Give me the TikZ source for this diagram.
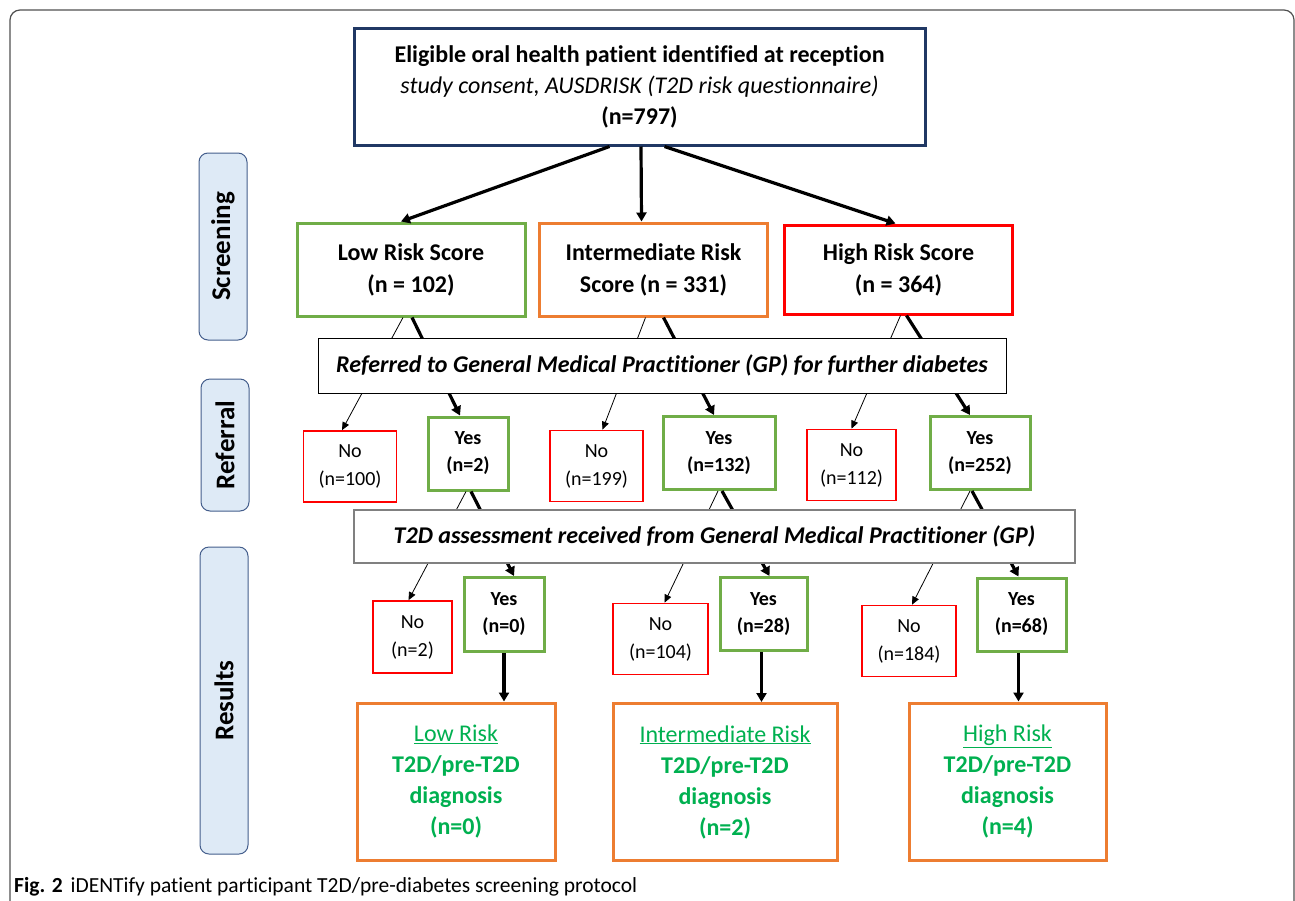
\documentclass[tikz,border=0pt]{standalone}
\usepackage{fontspec}
\setmainfont{Carlito}[Ligatures=NoCommon]
\usepackage{tikz}
\usetikzlibrary{positioning, arrows.meta, calc}
\definecolor{navycolor}{RGB}{32,56,100}
\definecolor{lowcolor}{RGB}{112,173,71}
\definecolor{midcolor}{RGB}{237,125,49}
\definecolor{highcolor}{RGB}{255,0,0}
\definecolor{diagcolor}{RGB}{0,176,80}
\definecolor{stagefill}{RGB}{222,234,246}
\definecolor{stageedge}{RGB}{68,94,140}
\definecolor{framecolor}{RGB}{80,80,80}

\tikzset{
    riskbox/.style={rectangle, line width=3pt, minimum width=228pt, minimum height=93pt, align=center, inner sep=0pt, font=\fontsize{24}{32}\selectfont\bfseries},
    nobox/.style={rectangle, draw=highcolor, line width=1.6pt, minimum width=93pt, minimum height=71pt, align=center, inner sep=0pt, font=\fontsize{20}{28}\selectfont},
    yesbox/.style={rectangle, draw=lowcolor, line width=3pt, minimum height=73pt, align=center, inner sep=0pt, font=\fontsize{20}{27}\selectfont\bfseries},
    stagebox/.style={rectangle, rounded corners=9pt, draw=stageedge, fill=stagefill, line width=1pt, rotate=90, minimum height=48pt, inner sep=0pt, font=\fontsize{27}{30}\selectfont\bfseries},
    questionbox/.style={rectangle, fill=white, inner sep=0pt, font=\fontsize{24}{28}\selectfont\bfseries\itshape},
    resultbox/.style={rectangle, draw=midcolor, line width=3pt, minimum width=198pt, minimum height=157pt, align=center, inner sep=0pt, text=diagcolor, font=\fontsize{24}{31}\selectfont},
    thinarrow/.style={-{Triangle[length=8pt,width=7pt]}, line width=0.8pt},
    thickarrow/.style={-{Triangle[length=9pt,width=10pt]}, line width=3.2pt},
}

\begin{document}
\begin{tikzpicture}[x=1pt, y=-1pt]
    \useasboundingbox (0,0) rectangle (1295,900);
    \begin{scope}
        \clip (0,0) rectangle (1295,900);
        \draw[framecolor, line width=1.2pt, rounded corners=10pt] (10,10) rectangle (1294,940);
    \end{scope}

    % stage labels on the left
    \node[stagebox, minimum width=187pt] (screening) at (223,246.5) {Screening};
    \node[stagebox, minimum width=132pt] (referral) at (225,445) {Referral};
    \node[stagebox, minimum width=307pt] (results) at (224,700.5) {Results};

    % screening
    \node[rectangle, draw=navycolor, line width=3pt, minimum width=571pt, minimum height=117pt, align=center, inner sep=0pt, font=\fontsize{24}{31}\selectfont] (eligible) at (639.5,86.5) {
        \textbf{Eligible oral health patient identified at reception}\\
        \textit{study consent, AUSDRISK (T2D risk questionnaire)}\\
        \textbf{(n=797)}
    };
    \node[riskbox, draw=lowcolor] (lowrisk) at (411,269.5) {Low Risk Score\\(n = 102)};
    \node[riskbox, draw=midcolor] (midrisk) at (653.5,269.5) {Intermediate Risk\\Score (n = 331)};
    \node[riskbox, draw=highcolor, minimum height=89pt] (highrisk) at (898.5,269.5) {High Risk Score\\(n = 364)};

    \draw[thickarrow] ([xshift=-30pt]eligible.south) -- ([xshift=-10pt]lowrisk.north);
    \draw[thickarrow] ([xshift=1.5pt]eligible.south) -- ([xshift=-12pt]midrisk.north);
    \draw[thickarrow] ([xshift=25pt]eligible.south) -- ([xshift=-3pt]highrisk.north);

    % referral
    \node[nobox] (refnolow) at (350,466.5) {No\\(n=100)};
    \node[yesbox, minimum width=80pt] (refyeslow) at (468,453.5) {Yes\\(n=2)};
    \node[nobox] (refnomid) at (596.5,466) {No\\(n=199)};
    \node[yesbox, minimum width=112pt] (refyesmid) at (719,453) {Yes\\(n=132)};
    \node[nobox, minimum width=89pt] (refnohigh) at (851.5,465) {No\\(n=112)};
    \node[yesbox, minimum width=100pt] (refyeshigh) at (980,453) {Yes\\(n=252)};

    \draw[thinarrow] ([xshift=-8pt]lowrisk.south) -- ([xshift=-8pt]refnolow.north);
    \draw[thickarrow] ([xshift=1pt]lowrisk.south) -- ([xshift=-8pt]refyeslow.north);
    \draw[thinarrow] ([xshift=-8pt]midrisk.south) -- ([xshift=6pt]refnomid.north);
    \draw[thickarrow] ([xshift=10pt]midrisk.south) -- ([xshift=-5pt]refyesmid.north);
    \draw[thinarrow] ([xshift=2pt]highrisk.south) -- (refnohigh.north);
    \draw[thickarrow] ([xshift=8pt]highrisk.south) -- ([xshift=-10pt]refyeshigh.north);

    \node[questionbox, draw=black, line width=1pt, minimum width=688pt, minimum height=55pt] (referred) at (662,365.5) {Referred to General Medical Practitioner (GP) for further diabetes};

    % results
    \node[nobox, minimum width=79pt, minimum height=72pt] (gpnolow) at (412.5,637) {No\\(n=2)};
    \node[yesbox, minimum width=80pt, minimum height=74pt] (gpyeslow) at (504,614.5) {Yes\\(n=0)};
    \node[nobox, minimum width=95pt] (gpnomid) at (660.5,639) {No\\(n=104)};
    \node[yesbox, minimum width=87pt] (gpyesmid) at (763.5,614) {Yes\\(n=28)};
    \node[nobox, minimum width=94pt] (gpnohigh) at (909,641) {No\\(n=184)};
    \node[yesbox, minimum width=89pt] (gpyeshigh) at (1021.5,614.5) {Yes\\(n=68)};

    \draw[thinarrow] ([xshift=-2pt]refyeslow.south) -- ([xshift=-4pt]gpnolow.north);
    \draw[thickarrow] ([xshift=3pt]refyeslow.south) -- ([xshift=10pt]gpyeslow.north);
    \draw[thinarrow] ([xshift=-1pt]refyesmid.south) -- ([xshift=4pt]gpnomid.north);
    \draw[thickarrow] ([xshift=3pt]refyesmid.south) -- ([xshift=6pt]gpyesmid.north);
    \draw[thinarrow] ([xshift=-10pt]refyeshigh.south) -- ([xshift=3pt]gpnohigh.north);
    \draw[thickarrow] ([xshift=-8pt]refyeshigh.south) -- ([xshift=-3pt]gpyeshigh.north);

    \node[questionbox, draw=gray, line width=1.5pt, minimum width=721pt, minimum height=53pt] (assess) at (714.5,536.5) {T2D assessment received from General Medical Practitioner (GP)};

    \node[resultbox] (lowres) at (456,781.5) {\underline{Low Risk}\\\textbf{T2D/pre-T2D}\\\textbf{diagnosis}\\\textbf{(n=0)}};
    \node[resultbox, minimum width=224pt] (midres) at (725,782) {\underline{Intermediate Risk}\\\textbf{T2D/pre-T2D}\\\textbf{diagnosis}\\\textbf{(n=2)}};
    \node[resultbox, minimum width=197pt] (highres) at (1007.5,781.5) {\underline{High Risk}\\\textbf{T2D/pre-T2D}\\\textbf{diagnosis}\\\textbf{(n=4)}};

    \draw[thickarrow] (gpyeslow.south) -- (gpyeslow.south |- lowres.north);
    \draw[thickarrow] ([xshift=-2pt]gpyesmid.south) -- ([xshift=-2pt]gpyesmid.south |- midres.north);
    \draw[thickarrow] ([xshift=-3pt]gpyeshigh.south) -- ([xshift=-3pt]gpyeshigh.south |- highres.north);

    % caption
    \node[anchor=base west, inner sep=0pt, font=\fontsize{21.5}{24}\selectfont] (caption) at (14,892) {\textbf{Fig. 2}\hspace{8pt}iDENTify patient participant T2D/pre-diabetes screening protocol};
\end{tikzpicture}
\end{document}
